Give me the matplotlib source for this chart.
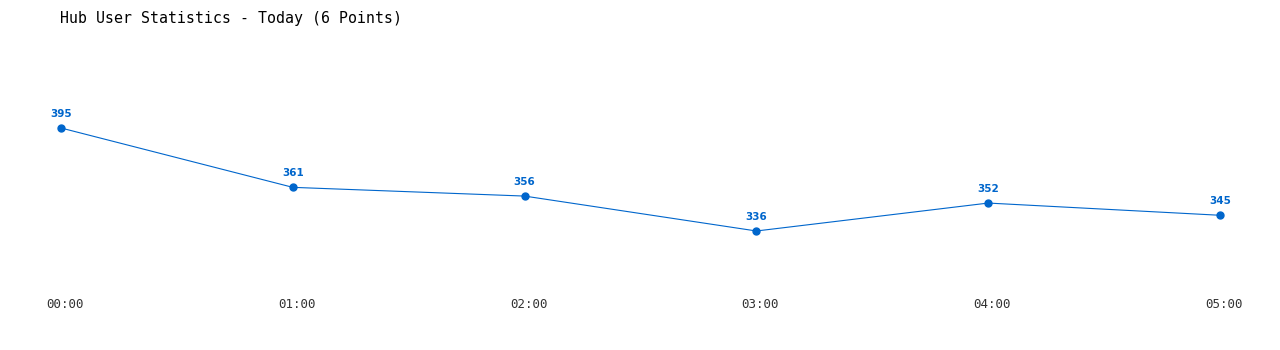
import matplotlib
matplotlib.use("Agg")
import matplotlib.pyplot as plt
import matplotlib.transforms as mtransforms

# data
hours = ['00:00', '01:00', '02:00', '03:00', '04:00', '05:00']
users = [395, 361, 356, 336, 352, 345]

blue = '#0066cc'

fig = plt.figure(figsize=(12.8, 3.5), dpi=100)
ax = fig.add_axes([61 / 1280, 60 / 350, (1220 - 61) / 1280, 250 / 350])

x = list(range(len(hours)))
ax.plot(x, users, color=blue, lw=0.8, marker='o', markersize=5, clip_on=False)

for xi, v in zip(x, users):
    ax.annotate(str(v), (xi, v), xytext=(0, 6.5), textcoords='offset points',
                ha='center', va='bottom', color=blue, fontsize=7.5,
                fontweight='bold', family='DejaVu Sans')

ax.set_xlim(0, 5)
ax.set_ylim(302.2, 445.4)
ax.set_xticks(x)
ax.set_xticklabels(hours, family='DejaVu Sans Mono', fontsize=9, color='#333333')
ax.tick_params(axis='x', length=0, pad=5.8)
ax.set_yticks([])
for s in ax.spines.values():
    s.set_visible(False)

# tick labels sit a few pixels right of the points
off = mtransforms.ScaledTranslation(4 / 100, 0, fig.dpi_scale_trans)
for lbl in ax.get_xticklabels():
    lbl.set_transform(lbl.get_transform() + off)

fig.text(60 / 1280, 1 - 18 / 350, 'Hub User Statistics - Today (6 Points)',
         family='DejaVu Sans Mono', fontsize=10.7, color='black', va='center', ha='left')

fig.savefig('out.png', dpi=100)
